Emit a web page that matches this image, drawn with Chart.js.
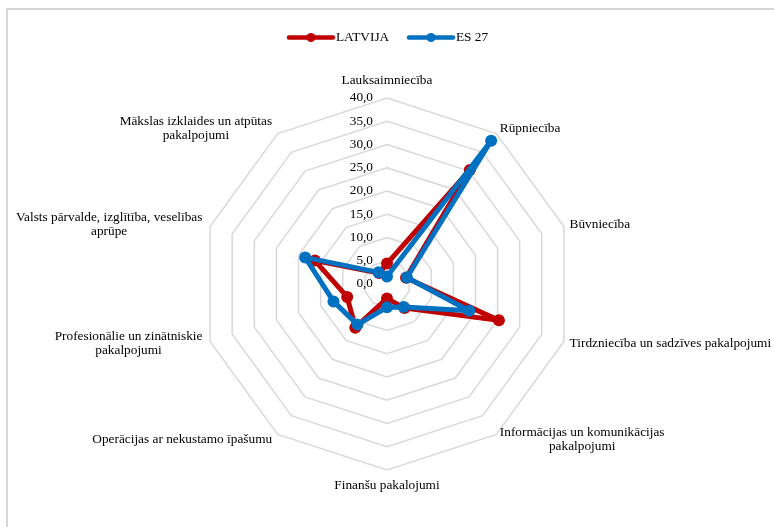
<!DOCTYPE html>
<html>
<head>
<meta charset="utf-8">
<script src="https://cdn.jsdelivr.net/npm/chart.js@4"></script>
<style>
  html, body { margin: 0; padding: 0; background: #fff; overflow: hidden; }
  #wrap { position: relative; width: 774px; height: 527px; overflow: hidden; }
  #frame {
    position: absolute; left: 6px; top: 8px; right: -10px; bottom: -10px;
    border-left: 2px solid #d6d6d6; border-top: 2px solid #d6d6d6;
  }
  canvas { position: absolute; left: 0; top: 0; }
</style>
</head>
<body>
<div id="wrap">
  <div id="frame"></div>
  <canvas id="radarChart" width="774" height="527"></canvas>
</div>
<script>
// ── Data ───────────────────────────────────────────────────────
const categories = [
  "Lauksaimniecība",
  "Rūpniecība",
  "Būvniecība",
  "Tirdzniecība un sadzīves pakalpojumi",
  ["Informācijas un komunikācijas", "pakalpojumi"],
  "Finanšu pakalojumi",
  "Operācijas ar nekustamo īpašumu",
  ["Profesionālie un zinātniskie", "pakalpojumi"],
  ["Valsts pārvalde, izglītība, veselības", "aprūpe"],
  ["Mākslas izklaides un atpūtas", "pakalpojumi"]
];
const latvija = [4.4, 30.3, 4.3, 25.3, 6.4, 3.1, 11.6, 9.0, 16.3, 2.9];
const es27 = [1.6, 38.1, 4.5, 18.6, 6.1, 5.0, 10.8, 12.1, 18.5, 3.1];
const axisMin = 0;
const axisMax = 40;
const axisStep = 5;

const RED = "#c00000";
const BLUE = "#0070c0";
const FONT = "13.3px 'Liberation Serif', 'Times New Roman', serif";

// ── Tick labels (left of the vertical axis, "40,0" style) ──
const tickLabelPlugin = {
  id: "tickLabels",
  afterDraw(chart) {
    const r = chart.scales.r;
    const ctx = chart.ctx;
    ctx.save();
    ctx.font = FONT;
    ctx.fillStyle = "#000";
    ctx.textAlign = "right";
    ctx.textBaseline = "middle";
    r.ticks.forEach(t => {
      const y = r.yCenter - r.getDistanceFromCenterForValue(t.value);
      ctx.fillText(t.value.toFixed(1).replace(".", ","), r.xCenter - 14, y);
    });
    ctx.restore();
  }
};

// ── Category labels, placed like Excel does ──
const pointLabelPlugin = {
  id: "catLabels",
  afterDraw(chart) {
    const r = chart.scales.r;
    const ctx = chart.ctx;
    const lineH = 14.5;
    ctx.save();
    ctx.font = FONT;
    ctx.fillStyle = "#000";
    ctx.textBaseline = "middle";
    chart.data.labels.forEach((lab, i) => {
      const lines = Array.isArray(lab) ? lab : [lab];
      const p = r.getPointPosition(i, r.drawingArea + 6);
      const deg = Math.round(r.getIndexAngle(i) * 180 / Math.PI) % 360;
      const widths = lines.map(l => ctx.measureText(l).width);
      const blockW = Math.max(...widths);
      const blockH = lines.length * lineH;

      let cx, top;
      if (deg === 0) {
        cx = p.x; top = p.y - 4 - blockH;
      } else if (deg === 180) {
        cx = p.x; top = p.y + 2;
      } else if (deg < 180) {
        cx = p.x + blockW / 2; top = p.y - blockH / 2;
      } else {
        cx = p.x - 2 - blockW / 2; top = p.y - blockH / 2;
      }
      ctx.textAlign = "center";
      lines.forEach((l, k) => ctx.fillText(l, cx, top + lineH * (k + 0.5)));
    });
    ctx.restore();
  }
};

// ── Legend (line + marker) ──
const legendPlugin = {
  id: "lineLegend",
  afterDraw(chart) {
    const ctx = chart.ctx;
    const items = [
      { ds: chart.data.datasets.find(d => d.label === "LATVIJA"), x: 289 },
      { ds: chart.data.datasets.find(d => d.label === "ES 27"), x: 409 }
    ];
    const y = 37.5;
    ctx.save();
    ctx.font = FONT;
    ctx.textBaseline = "middle";
    ctx.textAlign = "left";
    items.forEach(it => {
      ctx.strokeStyle = it.ds.borderColor;
      ctx.lineWidth = 4.5;
      ctx.lineCap = "round";
      ctx.beginPath();
      ctx.moveTo(it.x, y);
      ctx.lineTo(it.x + 44, y);
      ctx.stroke();
      ctx.fillStyle = it.ds.borderColor;
      ctx.beginPath();
      ctx.arc(it.x + 22, y, 4.5, 0, Math.PI * 2);
      ctx.fill();
      ctx.fillStyle = "#000";
      ctx.fillText(it.ds.label, it.x + 47, y + 0.5);
    });
    ctx.restore();
  }
};

const ctx = document.getElementById("radarChart").getContext("2d");

new Chart(ctx, {
  type: "radar",
  data: {
    labels: categories,
    datasets: [
      {
        label: "LATVIJA",
        data: latvija,
        borderColor: RED,
        backgroundColor: RED,
        pointBackgroundColor: RED,
        pointBorderColor: RED,
        borderWidth: 5,
        borderJoinStyle: "round",
        pointRadius: 6,
        pointBorderWidth: 0,
        fill: false,
        order: 2
      },
      {
        label: "ES 27",
        data: es27,
        borderColor: BLUE,
        backgroundColor: BLUE,
        pointBackgroundColor: BLUE,
        pointBorderColor: BLUE,
        borderWidth: 5,
        borderJoinStyle: "round",
        pointRadius: 6,
        pointBorderWidth: 0,
        fill: false,
        order: 1
      }
    ]
  },
  options: {
    responsive: false,
    animation: false,
    layout: { padding: { top: 98, bottom: 57, left: 201, right: 201 } },
    plugins: {
      legend: { display: false },
      tooltip: { enabled: false }
    },
    scales: {
      r: {
        min: axisMin,
        max: axisMax,
        ticks: { stepSize: axisStep, display: false },
        grid: { color: "#d9d9d9", lineWidth: 1.5 },
        angleLines: { display: false },
        pointLabels: { display: false }
      }
    }
  },
  plugins: [tickLabelPlugin, pointLabelPlugin, legendPlugin]
});
</script>
</body>
</html>
